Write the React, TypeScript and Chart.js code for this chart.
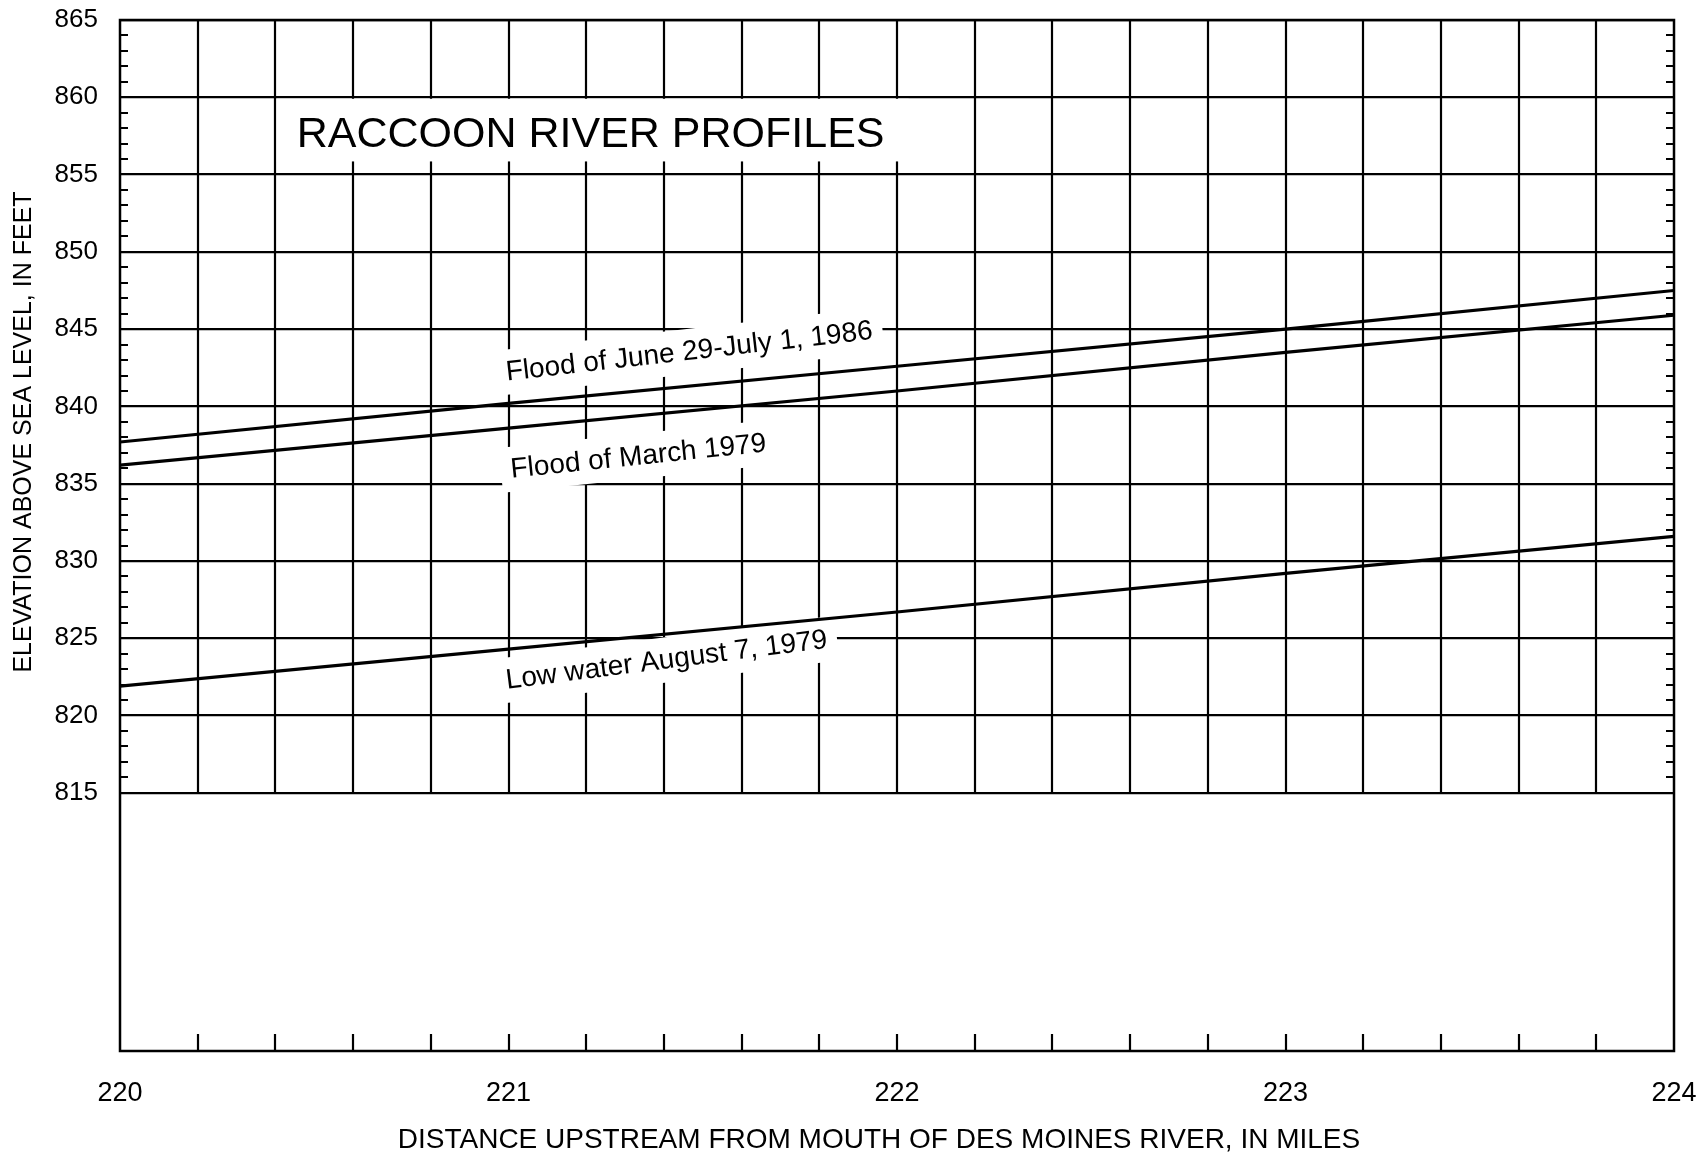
import React, { useEffect, useRef } from 'react';
import { Chart, registerables } from 'chart.js';

Chart.register(...registerables);

// ---------- data ----------
const distanceMiles = [220, 221, 222, 223, 224];
const flood1986 = [837.7, 840.2, 842.6, 845.0, 847.5];
const floodMarch1979 = [836.2, 838.6, 841.0, 843.5, 845.9];
const lowWater1979 = [821.9, 824.3, 826.7, 829.2, 831.6];

const xTickValues = [220, 221, 222, 223, 224];
const yTickValues = [815, 820, 825, 830, 835, 840, 845, 850, 855, 860, 865];

const seriesNames = [
  'Flood of June 29-July 1, 1986',
  'Flood of March 1979',
  'Low water August 7, 1979',
];
const chartTitle = 'RACCOON RIVER PROFILES';
const xAxisTitle = 'DISTANCE UPSTREAM FROM MOUTH OF DES MOINES RIVER, IN MILES';
const yAxisTitle = 'ELEVATION ABOVE SEA LEVEL, IN FEET';

// ---------- layout / style ----------
const FONT = '"Liberation Sans", Arial, Helvetica, sans-serif';
const X_MIN = 220;
const X_MAX = 224;
const Y_MIN = 798.3;
const Y_MAX = 865;
const GRID_BOTTOM = 815;
const X_GRID_STEP = 0.2;
const GRID_WIDTH = 2.2;

// label anchors (left end of baseline, in data units) and rotation in degrees
const labelPlacements = [
  { x: 220.996, y: 841.67, angle: -6.5 },
  { x: 221.008, y: 835.38, angle: -5.9 },
  { x: 220.996, y: 821.73, angle: -7.3 },
];
const titlePlacement = { x: 220.455, y: 856.8, boxX0: 220.4, boxX1: 222.03, boxY0: 860, boxY1: 855.85 };

const profilePlugin = {
  id: 'profileDecor',
  beforeDatasetsDraw(chart: any) {
    const { ctx, chartArea: a, scales } = chart;
    const xs = scales.x;
    const ys = scales.y;
    ctx.save();
    ctx.strokeStyle = '#000';
    ctx.lineWidth = GRID_WIDTH;
    ctx.lineCap = 'butt';
    const yGridBottom = ys.getPixelForValue(GRID_BOTTOM);
    const n = Math.round((X_MAX - X_MIN) / X_GRID_STEP);
    for (let i = 1; i < n; i++) {
      const v = X_MIN + i * X_GRID_STEP;
      const px = Math.round(xs.getPixelForValue(v));
      ctx.beginPath();
      ctx.moveTo(px, a.top);
      ctx.lineTo(px, yGridBottom);
      ctx.stroke();
      ctx.beginPath();
      ctx.moveTo(px, a.bottom);
      ctx.lineTo(px, a.bottom - 17);
      ctx.stroke();
    }
    // minor y ticks (every foot), inside on both sides
    for (let v = GRID_BOTTOM + 1; v < Y_MAX; v++) {
      if (v % 5 === 0) continue;
      const py = Math.round(ys.getPixelForValue(v));
      ctx.beginPath();
      ctx.moveTo(a.left, py);
      ctx.lineTo(a.left + 8, py);
      ctx.moveTo(a.right, py);
      ctx.lineTo(a.right - 8, py);
      ctx.stroke();
    }

    // title with white box
    const bx0 = xs.getPixelForValue(titlePlacement.boxX0) + 1.5;
    const bx1 = xs.getPixelForValue(titlePlacement.boxX1);
    const by0 = ys.getPixelForValue(titlePlacement.boxY0) + 1.5;
    const by1 = ys.getPixelForValue(titlePlacement.boxY1);
    ctx.fillStyle = '#fff';
    ctx.fillRect(bx0, by0, bx1 - bx0, by1 - by0);
    ctx.fillStyle = '#000';
    ctx.font = `43px ${FONT}`;
    ctx.textAlign = 'left';
    ctx.textBaseline = 'alphabetic';
    ctx.fillText(chartTitle, xs.getPixelForValue(titlePlacement.x), ys.getPixelForValue(titlePlacement.y));

    // series labels with white boxes
    ctx.font = `28px ${FONT}`;
    labelPlacements.forEach((p, i) => {
      const text = seriesNames[i];
      const px = xs.getPixelForValue(p.x);
      const py = ys.getPixelForValue(p.y);
      ctx.save();
      ctx.translate(px, py);
      ctx.rotate((p.angle * Math.PI) / 180);
      const w = ctx.measureText(text).width;
      ctx.fillStyle = '#fff';
      ctx.fillRect(-10, -31, w + 20, 45);
      ctx.fillStyle = '#000';
      ctx.fillText(text, 0, 0);
      ctx.restore();
    });

    // axis titles
    ctx.font = `25px ${FONT}`;
    ctx.textAlign = 'center';
    ctx.textBaseline = 'middle';
    ctx.save();
    ctx.translate(24, 432);
    ctx.rotate(-Math.PI / 2);
    ctx.fillText(yAxisTitle, 0, 0);
    ctx.restore();
    ctx.font = `28px ${FONT}`;
    ctx.fillText(xAxisTitle, 879, 1140);
    ctx.restore();
  },
  afterDatasetsDraw(chart: any) {
    const { ctx, chartArea: a } = chart;
    ctx.save();
    ctx.strokeStyle = '#000';
    ctx.lineWidth = 2.5;
    ctx.strokeRect(a.left, a.top, a.right - a.left, a.bottom - a.top);
    ctx.restore();
  },
};

export default function App() {
  const ref = useRef<HTMLCanvasElement>(null);
  useEffect(() => {
    if (!ref.current) return;
    const mk = (vals: number[]) => distanceMiles.map((x, i) => ({ x, y: vals[i] }));
    const lineStyle = {
      borderColor: '#000',
      borderWidth: 3.2,
      pointRadius: 0,
      tension: 0,
      fill: false,
    };
    const chart = new Chart(ref.current, {
      type: 'line',
      data: {
        datasets: [
          { label: seriesNames[0], data: mk(flood1986), ...lineStyle },
          { label: seriesNames[1], data: mk(floodMarch1979), ...lineStyle },
          { label: seriesNames[2], data: mk(lowWater1979), ...lineStyle },
        ],
      },
      options: {
        animation: false,
        responsive: false,
        maintainAspectRatio: false,
        layout: { padding: { left: 0, right: 27, top: 20, bottom: 0 } },
        plugins: {
          legend: { display: false },
          tooltip: { enabled: false },
          title: { display: false },
        },
        scales: {
          x: {
            type: 'linear',
            min: X_MIN,
            max: X_MAX,
            grid: { display: false },
            border: { display: false },
            ticks: {
              stepSize: 1,
              font: { family: FONT, size: 27 },
              color: '#000',
              padding: 18,
              maxRotation: 0,
              autoSkip: false,
              callback: (v: any) => String(v),
            },
            afterBuildTicks: (s: any) => {
              s.ticks = xTickValues.map((v) => ({ value: v }));
            },
            afterFit: (s: any) => {
              s.height = 103;
              s.paddingLeft = 0;
              s.paddingRight = 0;
            },
          },
          y: {
            type: 'linear',
            min: Y_MIN,
            max: Y_MAX,
            grid: { color: '#000', lineWidth: GRID_WIDTH, drawTicks: false },
            border: { display: false },
            ticks: {
              font: { family: FONT, size: 26 },
              color: '#000',
              padding: 22,
              autoSkip: false,
              callback: (v: any) => String(v),
            },
            afterBuildTicks: (s: any) => {
              s.ticks = yTickValues.map((v) => ({ value: v }));
            },
            afterFit: (s: any) => {
              s.width = 120;
              s.paddingTop = 0;
              s.paddingBottom = 0;
            },
          },
        },
      } as any,
      plugins: [profilePlugin],
    });
    return () => chart.destroy();
  }, []);
  return (
    <div style={{ position: 'absolute', left: 0, top: 0, width: 1701, height: 1154, background: '#fff' }}>
      <canvas ref={ref} width={1701} height={1154} style={{ display: 'block' }} />
    </div>
  );
}
